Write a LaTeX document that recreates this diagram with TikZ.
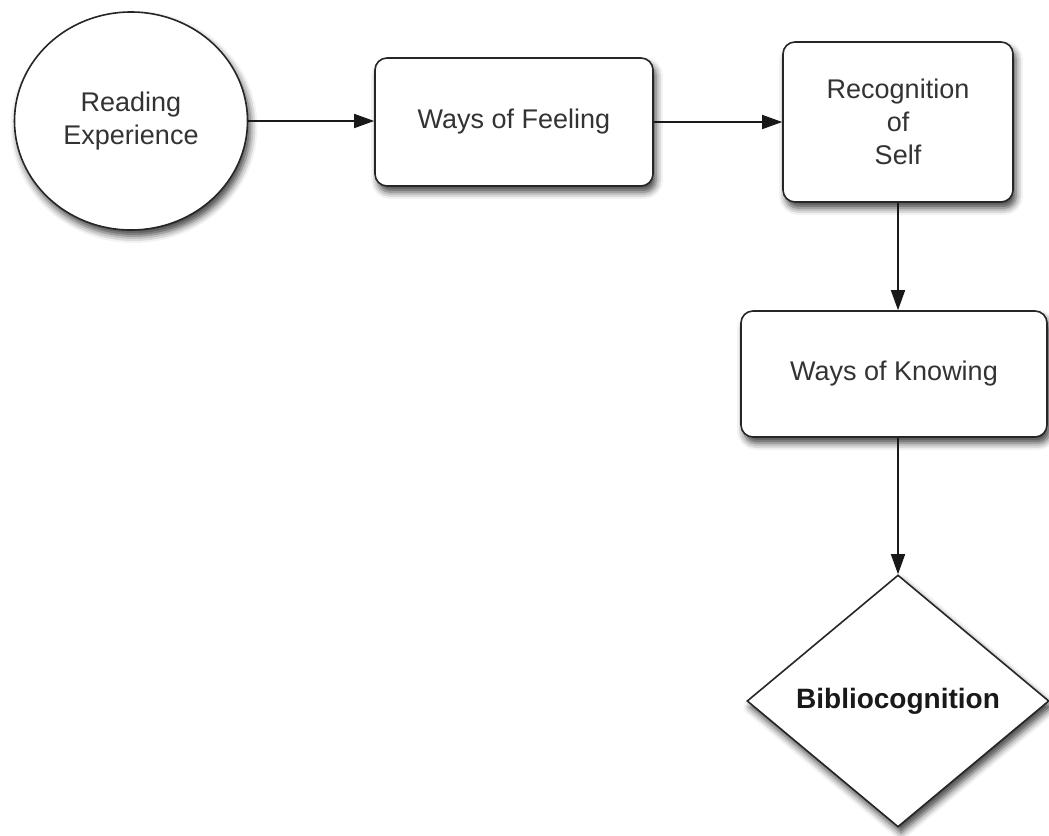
\documentclass[tikz,border=0pt]{standalone}
\usepackage{fontspec}
\setmainfont{Liberation Sans}
\usetikzlibrary{arrows.meta,shapes.geometric,shadows.blur}
\tikzset{
  step shape/.style={draw=black!85, line width=1.6pt, fill=white, text=black!80,
    blur shadow={shadow xshift=3pt, shadow yshift=-6pt, shadow blur radius=7pt, shadow opacity=75},
    font=\fontsize{27}{33}\selectfont, align=center, inner sep=0pt},
  roundbox/.style={step shape, rectangle, rounded corners=12pt},
  flow/.style={-{Triangle[length=20pt,width=14pt]}, line width=1.6pt, black!90}
}
\begin{document}
\begin{tikzpicture}[x=1pt,y=1pt]
    % Frame
    \useasboundingbox (0,0) rectangle (1049,-835);
    % Nodes
    \node [step shape, ellipse, minimum width=233pt, minimum height=218pt] (read) at (131,-121) {Reading\\Experience};
    \node [roundbox, minimum width=278pt, minimum height=128pt] (feel) at (514,-122) {Ways of Feeling};
    \node [roundbox, minimum width=230pt, minimum height=160pt] (self) at (898,-122) {Recognition\\of\\Self};
    \node [roundbox, minimum width=306pt, minimum height=126pt] (know) at (894,-374) {Ways of Knowing};
    \node [step shape, diamond, minimum width=302pt, minimum height=252pt, font=\fontsize{28}{32}\selectfont\bfseries, text=black!90] (biblio) at (898,-701) {Bibliocognition};
    % Arrows
    \draw [flow] (read.east) -- (read.east -| feel.west);
    \draw [flow] (feel.east) -- (feel.east -| self.west);
    \draw [flow] (self.south) -- (self.south |- know.north); % down to knowing
    \draw [flow] (biblio.north |- know.south) -- (biblio.north);
\end{tikzpicture}
\end{document}
